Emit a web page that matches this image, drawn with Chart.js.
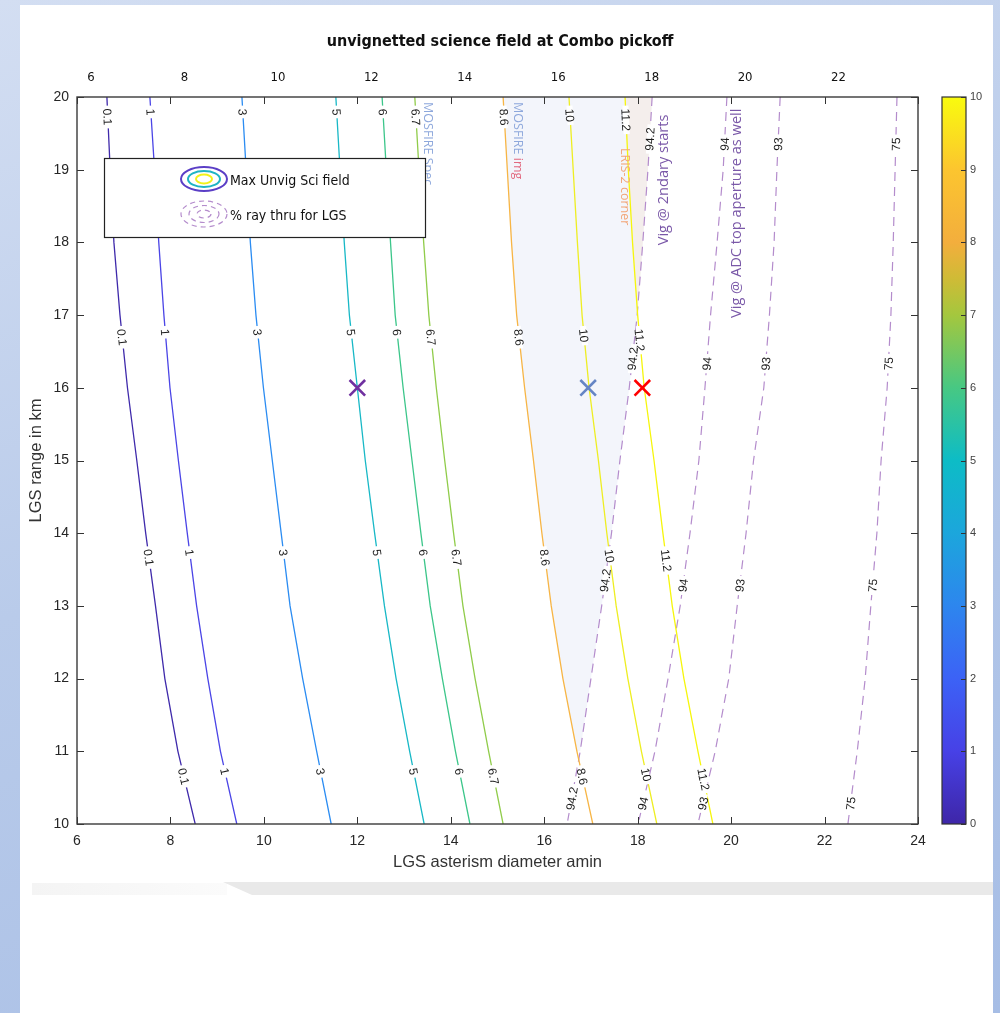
<!DOCTYPE html>
<html>
<head>
<meta charset="utf-8">
<script src="https://cdn.jsdelivr.net/npm/chart.js@4.4.1/dist/chart.umd.min.js"></script>
<style>
html,body{margin:0;padding:0;width:1000px;height:1013px;overflow:hidden;}
body{position:relative;background:linear-gradient(160deg,#d3def2 0%,#b9cbea 45%,#a6bde5 100%);}
#page{position:absolute;left:20px;top:5px;width:973px;height:1008px;background:#ffffff;}
#band{position:absolute;left:223px;top:882px;width:770px;height:13px;background:#e9e9e9;clip-path:polygon(0 0,100% 0,100% 100%,29px 100%);}
#band0{position:absolute;left:32px;top:883px;width:195px;height:12px;background:linear-gradient(90deg,#f4f4f4,#fbfbfb);}
canvas{position:absolute;left:0;top:0;}
</style>
</head>
<body>
<div id="page"></div><div id="band0"></div><div id="band"></div>
<canvas id="c" width="1000" height="1013"></canvas>
<script>
// ---------------- DATA ----------------
// LGS range (km) at which each contour x-position is read
const rangeKm = [20, 19, 18, 17, 16, 15, 14, 13, 12, 11, 10];

// Max unvignetted science field contours (LGS asterism diameter, amin)
const fieldLevels = ['0.1', '1', '3', '5', '6', '6.7', '8.6', '10', '11.2'];
const field_0_1 = [6.64, 6.71, 6.79, 6.92, 7.08, 7.28, 7.47, 7.68, 7.88, 8.16, 8.53];
const field_1   = [7.56, 7.66, 7.75, 7.86, 7.99, 8.17, 8.36, 8.56, 8.80, 9.07, 9.42];
const field_3   = [9.53, 9.62, 9.71, 9.83, 9.99, 10.18, 10.37, 10.56, 10.83, 11.13, 11.44];
const field_5   = [11.54, 11.63, 11.72, 11.83, 12.00, 12.17, 12.37, 12.58, 12.83, 13.12, 13.43];
const field_6   = [12.53, 12.62, 12.71, 12.81, 12.98, 13.17, 13.36, 13.56, 13.82, 14.10, 14.41];
const field_6_7 = [13.23, 13.32, 13.42, 13.53, 13.69, 13.87, 14.06, 14.26, 14.52, 14.81, 15.12];
const field_8_6 = [15.12, 15.21, 15.30, 15.41, 15.58, 15.77, 15.95, 16.15, 16.40, 16.70, 17.04];
const field_10  = [16.53, 16.62, 16.71, 16.81, 16.96, 17.16, 17.34, 17.54, 17.79, 18.08, 18.41];
const field_11_2= [17.73, 17.80, 17.89, 18.00, 18.14, 18.35, 18.54, 18.74, 18.99, 19.29, 19.61];

// % ray through for LGS contours
const rayLevels = ['94.2', '94', '93', '75'];
const ray_94_2 = [18.31, 18.22, 18.11, 17.99, 17.82, 17.62, 17.44, 17.23, 17.00, 16.77, 16.49];
const ray_94   = [19.91, 19.83, 19.70, 19.56, 19.44, 19.31, 19.12, 18.91, 18.65, 18.37, 18.01];
const ray_93   = [21.05, 20.98, 20.92, 20.82, 20.70, 20.48, 20.32, 20.13, 19.95, 19.66, 19.29];
const ray_75   = [23.55, 23.51, 23.47, 23.42, 23.34, 23.21, 23.12, 22.99, 22.87, 22.70, 22.50];

// X markers
const markerX = [12.0, 16.94, 18.1];
const markerY = [16, 16, 16];

// contour label rows (LGS range km): start of text for solid, end (bottom) for dashed
const fieldLabelRows = [19.84, 16.81, 13.78, 10.77];
const rayLabelRows = [19.26, 16.24, 13.19, 10.19];

// ---------------- STYLES ----------------
const fieldSeries = [field_0_1, field_1, field_3, field_5, field_6, field_6_7, field_8_6, field_10, field_11_2];
const raySeries = [ray_94_2, ray_94, ray_93, ray_75];
const fieldColors = ['#3f2aab', '#4b45e6', '#2b8cf2', '#18b8c6', '#3cc68a', '#90cc4a', '#f7b545', '#eeee22', '#f6f60c'];
const rayColor = '#b48ccc';
const markerColors = ['#7030a0', '#6585c5', '#ff0000'];
const SANS = '"Liberation Sans", Arial, sans-serif';
const NARROW = '"Liberation Sans Narrow", "Arial Narrow", "DejaVu Sans Condensed", sans-serif';
const NOTE = '"Open Sans", "Noto Sans", sans-serif';

const notes = [
  {parts: [['MOSFIRE Spec', '#8ea8dc']], x: 13.51, y: 19.93, size: 12.5, up: false},
  {parts: [['MOSFIRE ', '#8ea8dc'], ['img', '#e26a80']], x: 15.44, y: 19.93, size: 12.5, up: false},
  {parts: [['LRIS-2 corner', '#f2a679']], x: 17.73, y: 19.30, size: 12.5, up: false},
  {parts: [['Vig @ 2ndary starts', '#7a58a8']], x: 18.56, y: 17.96, size: 14.6, up: true},
  {parts: [['Vig @ ADC top aperture as well', '#7a58a8']], x: 20.13, y: 16.96, size: 14.6, up: true}
];

const pts = (arr) => arr.map((v, i) => ({x: v, y: rangeKm[i]}));

// ---------------- DATASETS ----------------
const datasets = [];
// shaded region between 8.6 field contour and 94.2 ray contour
const shadeIdx = rangeKm.indexOf(11);
const shadePts = pts(field_8_6).slice(0, shadeIdx + 1).concat(pts(ray_94_2).slice(0, shadeIdx + 1).reverse());
datasets.push({data: shadePts, showLine: true, fill: 'shape', backgroundColor: '#f3f5fb', borderWidth: 0, pointRadius: 0, order: 30});
const peachIdx = rangeKm.indexOf(17);
const peachPts = pts(field_11_2).slice(0, peachIdx + 1).concat(pts(ray_94_2).slice(0, peachIdx + 1).reverse());
datasets.push({data: peachPts, showLine: true, fill: 'shape', backgroundColor: 'rgba(246,232,222,0.5)', borderWidth: 0, pointRadius: 0, order: 29});

fieldSeries.forEach((arr, i) => datasets.push({
  data: pts(arr), showLine: true, borderColor: fieldColors[i], borderWidth: 1.3, pointRadius: 0, tension: 0,
  fill: false, order: 5, contourLabel: fieldLevels[i], src: arr, dashed: false
}));
raySeries.forEach((arr, i) => datasets.push({
  data: pts(arr), showLine: true, borderColor: rayColor, borderWidth: 1.2, borderDash: [9, 6], pointRadius: 0, tension: 0,
  fill: false, order: 6, contourLabel: rayLevels[i], src: arr, dashed: true
}));
datasets.push({
  data: markerX.map((v, i) => ({x: v, y: markerY[i]})), showLine: false, pointStyle: 'crossRot',
  pointRadius: 11, borderWidth: 2.6, borderColor: markerColors, backgroundColor: markerColors, order: 0
});

// ---------------- HELPERS ----------------
function segAt(arr, yv) {
  for (let i = 0; i < rangeKm.length - 1; i++) {
    const y0 = rangeKm[i], y1 = rangeKm[i + 1];
    if (yv <= y0 && yv >= y1) return i;
  }
  return yv > rangeKm[0] ? 0 : rangeKm.length - 2;
}

const contourLabels = {
  id: 'contourLabels',
  afterDatasetsDraw(chart) {
    const {ctx, chartArea: a} = chart;
    const xs = chart.scales.x, ys = chart.scales.y;
    ctx.save();
    ctx.beginPath(); ctx.rect(a.left, a.top, a.width, a.height); ctx.clip();
    ctx.font = '12px ' + SANS;
    chart.data.datasets.forEach(ds => {
      if (!ds.contourLabel) return;
      const rows = ds.dashed ? rayLabelRows : fieldLabelRows;
      const tw = ctx.measureText(ds.contourLabel).width;
      rows.forEach(r => {
        const rp = ys.getPixelForValue(r);
        const cy = ds.dashed ? rp - tw / 2 : rp + tw / 2;
        const yv = ys.getValueForPixel(cy);
        const i = segAt(ds.src, yv);
        const t = (rangeKm[i] - yv) / (rangeKm[i] - rangeKm[i + 1]);
        const xv = ds.src[i] + t * (ds.src[i + 1] - ds.src[i]);
        const px = xs.getPixelForValue(xv);
        const p0x = xs.getPixelForValue(ds.src[i]), p0y = ys.getPixelForValue(rangeKm[i]);
        const p1x = xs.getPixelForValue(ds.src[i + 1]), p1y = ys.getPixelForValue(rangeKm[i + 1]);
        let ang = Math.atan2(p1y - p0y, p1x - p0x);
        if (ang > Math.PI / 2) ang -= Math.PI;
        if (ang < -Math.PI / 2) ang += Math.PI;
        ctx.save();
        ctx.translate(px, cy);
        ctx.rotate(ang);
        ctx.fillStyle = '#ffffff';
        ctx.fillRect(-tw / 2 - 3, -3, tw + 6, 6);
        ctx.fillStyle = '#1c1c1c';
        ctx.textAlign = 'center';
        ctx.textBaseline = 'middle';
        ctx.fillText(ds.contourLabel, 0, 1);
        ctx.restore();
      });
    });
    ctx.restore();
  }
};

const annotations = {
  id: 'annotations',
  afterDatasetsDraw(chart) {
    const {ctx} = chart;
    const xs = chart.scales.x, ys = chart.scales.y;
    notes.forEach(n => {
      ctx.save();
      ctx.font = n.size + 'px ' + NOTE;
      ctx.translate(xs.getPixelForValue(n.x), ys.getPixelForValue(n.y));
      ctx.rotate(n.up ? -Math.PI / 2 : Math.PI / 2);
      ctx.textBaseline = 'middle';
      ctx.textAlign = 'left';
      let off = 0;
      n.parts.forEach(([t, c]) => {
        ctx.fillStyle = c;
        ctx.fillText(t, off, 0);
        off += ctx.measureText(t).width;
      });
      ctx.restore();
    });
  }
};

const frameAndExtras = {
  id: 'frameAndExtras',
  afterDraw(chart) {
    const {ctx, chartArea: a, scales} = chart;
    ctx.save();
    // inward ticks
    ctx.strokeStyle = '#333333';
    ctx.lineWidth = 1;
    const L = 7;
    ctx.beginPath();
    scales.x.ticks.forEach(t => {
      const p = Math.round(scales.x.getPixelForValue(t.value)) + 0.5;
      ctx.moveTo(p, a.bottom); ctx.lineTo(p, a.bottom - L);
      ctx.moveTo(p, a.top); ctx.lineTo(p, a.top + L);
    });
    scales.y.ticks.forEach(t => {
      const p = Math.round(scales.y.getPixelForValue(t.value)) + 0.5;
      ctx.moveTo(a.left, p); ctx.lineTo(a.left + L, p);
      ctx.moveTo(a.right, p); ctx.lineTo(a.right - L, p);
    });
    ctx.stroke();
    // frame
    ctx.lineWidth = 1.4;
    ctx.strokeStyle = '#3a3a3a';
    ctx.strokeRect(a.left, a.top, a.width, a.height);

    // legend box
    const lx = a.left + 27, ly = a.top + 61, lw = 321, lh = 79;
    ctx.fillStyle = '#ffffff';
    ctx.fillRect(lx, ly, lw, lh);
    ctx.lineWidth = 1.2;
    ctx.strokeStyle = '#222222';
    ctx.strokeRect(lx + 0.5, ly + 0.5, lw, lh);
    const ex = lx + 100, ey1 = ly + 21, ey2 = ly + 56;
    [[23, 12, '#5b3fc6'], [16, 8, '#1fb4c4'], [8, 4.5, '#f2f21a']].forEach(([rx, ry, c]) => {
      ctx.beginPath(); ctx.ellipse(ex, ey1, rx, ry, 0, 0, Math.PI * 2);
      ctx.strokeStyle = c; ctx.lineWidth = 2; ctx.stroke();
    });
    ctx.setLineDash([5, 4]);
    [[23, 13], [15, 8.5], [7, 4]].forEach(([rx, ry]) => {
      ctx.beginPath(); ctx.ellipse(ex, ey2, rx, ry, 0, 0, Math.PI * 2);
      ctx.strokeStyle = rayColor; ctx.lineWidth = 1.2; ctx.stroke();
    });
    ctx.setLineDash([]);
    ctx.fillStyle = '#111111';
    ctx.font = '14px ' + NARROW;
    ctx.textBaseline = 'middle';
    ctx.textAlign = 'left';
    ctx.fillText('Max Unvig Sci field', lx + 126, ey1 + 2);
    ctx.fillText('% ray thru for LGS', lx + 126, ey2 + 2);

    // colorbar
    const cb = scales.cb;
    const cTop = cb.getPixelForValue(10), cBot = cb.getPixelForValue(0);
    const cx0 = a.right + 24, cw = 24;
    const g = ctx.createLinearGradient(0, cBot, 0, cTop);
    [[0, '#3e26a8'], [0.1, '#4741e6'], [0.2, '#3c62f6'], [0.3, '#2d86ee'], [0.4, '#1ca6dc'],
     [0.5, '#0dbcc6'], [0.6, '#47c883'], [0.7, '#a4c73e'], [0.75, '#cfbb36'], [0.8, '#f3ae3d'],
     [0.9, '#fcc52f'], [1, '#f9fb0e']].forEach(([o, c]) => g.addColorStop(o, c));
    ctx.fillStyle = g;
    ctx.fillRect(cx0, cTop, cw, cBot - cTop);
    ctx.strokeStyle = '#333333';
    ctx.lineWidth = 1.2;
    ctx.strokeRect(cx0, cTop, cw, cBot - cTop);
    ctx.beginPath();
    cb.ticks.forEach(t => {
      const p = Math.round(cb.getPixelForValue(t.value)) + 0.5;
      ctx.moveTo(cx0 + cw, p); ctx.lineTo(cx0 + cw - 5, p);
    });
    ctx.lineWidth = 1;
    ctx.stroke();
    ctx.restore();
  }
};

// ---------------- CHART ----------------
new Chart(document.getElementById('c'), {
  type: 'scatter',
  data: {datasets},
  options: {
    responsive: false,
    animation: false,
    devicePixelRatio: 1,
    layout: {padding: 0},
    events: [],
    plugins: {
      legend: {display: false},
      tooltip: {enabled: false},
      title: {
        display: true, text: 'unvignetted science field at Combo pickoff', color: '#111111',
        font: {family: NARROW, size: 16, weight: 'bold', lineHeight: '20px'},
        padding: {top: 32, bottom: 0}
      }
    },
    scales: {
      x: {
        type: 'linear', position: 'bottom', min: 6, max: 24,
        ticks: {stepSize: 2, color: '#262626', font: {family: SANS, size: 14}, padding: 9, maxRotation: 0, autoSkip: false},
        grid: {display: false, drawTicks: false}, border: {display: false},
        title: {display: true, text: 'LGS asterism diameter amin', color: '#333333', font: {family: SANS, size: 16.5}, padding: {top: 0, bottom: 141}},
        afterFit(s) { s.height = 189; }
      },
      x2: {
        type: 'linear', position: 'top', min: 6, max: 24,
        ticks: {stepSize: 2, labelOffset: 14, color: '#111111', font: {family: NARROW, size: 13}, padding: 12, maxRotation: 0, autoSkip: false,
          callback: v => (v === 24 ? '' : v)},
        grid: {display: false, drawTicks: false}, border: {display: false},
        afterFit(s) { s.height = 45; }
      },
      y: {
        type: 'linear', position: 'left', min: 10, max: 20,
        ticks: {stepSize: 1, color: '#262626', font: {family: SANS, size: 14}, padding: 8},
        grid: {display: false, drawTicks: false}, border: {display: false},
        title: {display: true, text: 'LGS range in km', color: '#333333', font: {family: SANS, size: 16.5}, padding: {top: 27, bottom: 0}},
        afterFit(s) { s.width = 77; }
      },
      cb: {
        type: 'linear', position: 'right', min: 0, max: 10,
        ticks: {stepSize: 1, color: '#444444', font: {family: SANS, size: 11}, padding: 52},
        grid: {display: false, drawTicks: false}, border: {display: false},
        afterFit(s) { s.width = 82; }
      }
    }
  },
  plugins: [contourLabels, annotations, frameAndExtras]
});
</script>
</body>
</html>
